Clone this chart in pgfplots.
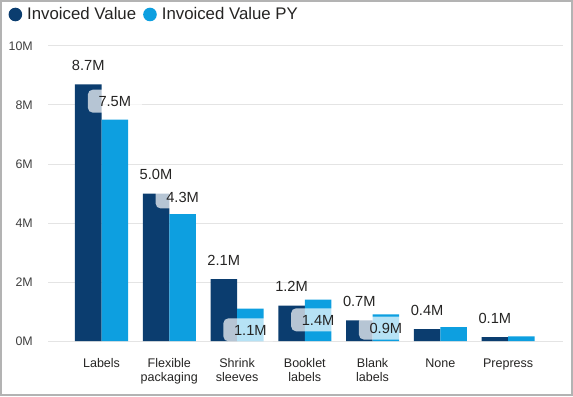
\documentclass[border=0pt]{standalone}
\usepackage{fontspec}
\setmainfont{Liberation Sans}
\usepackage{pgfplots}
\pgfplotsset{compat=1.18}
\definecolor{dk}{HTML}{0B3D6F}
\definecolor{lt}{HTML}{0D9FE0}
\definecolor{lbl}{HTML}{252423}
\definecolor{tk}{HTML}{404040}
\definecolor{grd}{HTML}{E4E4E4}
\definecolor{brd}{HTML}{B3B3B3}
\tikzset{pylbl/.style={fill=white, fill opacity=0.7, text opacity=1, rounded corners=3.75pt, inner xsep=8pt, inner ysep=4.7pt, text height=7.9pt, text depth=0pt, font=\fontsize{11}{13}\selectfont, text=lbl, anchor=base}}
\begin{document}
\begin{tikzpicture}
\useasboundingbox (0,0) rectangle (429.75pt,297pt);
\draw[brd, line width=1.5pt] (0.75pt,0.75pt) rectangle (429pt,296.25pt);
\begin{axis}[
  at={(36pt,41.25pt)}, anchor=south west,
  scale only axis, width=386.25pt, height=221.25pt,
  xmin=-0.79, xmax=6.81, ymin=0, ymax=10,
  clip=false,
  axis line style={draw=none},
  major tick length=0pt,
  ymajorgrids, grid style={grd, line width=0.75pt},
  ytick={0,2,4,6,8,10},
  yticklabels={0M,2M,4M,6M,8M,10M},
  yticklabel style={font=\fontsize{9.3}{11}\selectfont, text=tk, anchor=east, inner sep=0pt, xshift=-11.25pt},
  xtick={0,...,6},
  xticklabels={Labels, Flexible\\packaging, Shrink\\sleeves, Booklet\\labels, Blank\\labels, None, Prepress},
  xticklabel style={font=\fontsize{9.4}{10.5}\selectfont, text=lbl, anchor=north, inner sep=0pt, yshift=-13pt, align=center},
  ybar, bar width=19.9pt,
  /pgf/number format/assume math mode=true,
  legend columns=2,
  legend style={draw=none, fill=none, inner sep=0pt, at={(-0.0771,1.1068)}, anchor=west, font=\fontsize{12.6}{15}\selectfont, text=lbl, /tikz/every even column/.append style={column sep=5.25pt}, nodes={inner sep=0pt}},
]
\addplot[fill=dk, draw=none, bar shift=-9.95pt,
   nodes near coords={\pgfmathprintnumber[fixed,fixed zerofill,precision=1]{\pgfplotspointmeta}M},
   every node near coord/.append style={anchor=base, yshift=10.5pt, inner sep=0pt, font=\fontsize{11}{13}\selectfont, text=lbl},
   legend image code/.code={\fill[dk] (5.1pt,0pt) circle (5.1pt); \path (14pt,0pt);}]
 coordinates {(0,8.7) (1,5.0) (2,2.1) (3,1.2) (4,0.7) (5,0.4) (6,0.13)};
\addplot[fill=lt, draw=none, bar shift=9.95pt,
   legend image code/.code={\fill[lt] (5.1pt,0pt) circle (5.1pt); \path (14pt,0pt);}]
 coordinates {(0,7.5) (1,4.3) (2,1.1) (3,1.4) (4,0.9) (5,0.47) (6,0.16)};
\legend{Invoiced Value, Invoiced Value PY}
\node[pylbl, yshift=10pt] at (axis cs:0.196,7.5) {7.5M};
\node[pylbl, yshift=9pt] at (axis cs:1.196,4.3) {4.3M};
\node[pylbl] at (axis cs:2.196,0.2) {1.1M};
\node[pylbl] at (axis cs:3.196,0.54) {1.4M};
\node[pylbl] at (axis cs:4.196,0.26) {0.9M};
\end{axis}
\end{tikzpicture}
\end{document}
